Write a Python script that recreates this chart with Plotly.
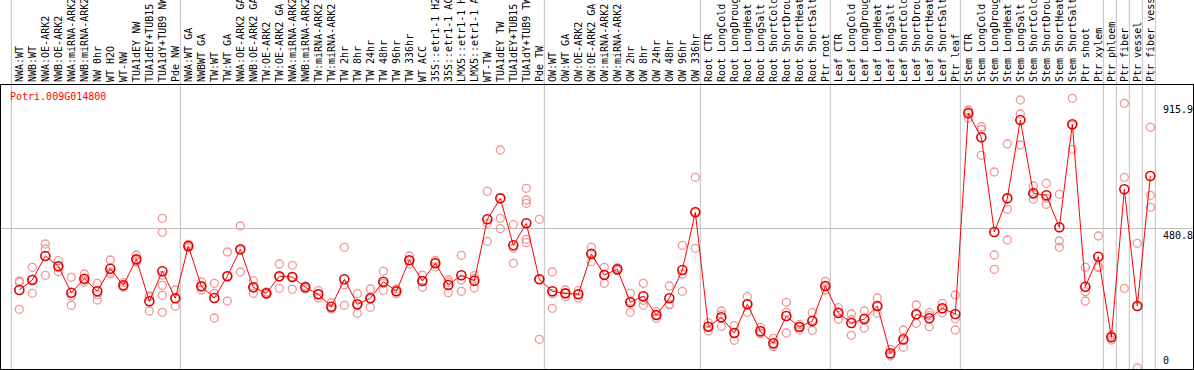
import plotly.graph_objects as go

# ---------------- data ----------------
gene = "Potri.009G014800"

samples = [
    "NWA:WT", "NWB:WT", "NWA:OE-ARK2", "NWB:OE-ARK2", "NWA:miRNA-ARK2", "NWB:miRNA-ARK2",
    "NW 0hr", "WT H2O", "WT-NW", "TUA1dEY NW", "TUA1dEY+TUB15 NW", "TUA1dY+TUB9 NW", "Pde NW",
    "NWA:WT GA", "NWBWT GA", "TW:WT", "TW:WT GA", "NWA:OE-ARK2 GA", "NWB:OE-ARK2 GA",
    "TW:OE-ARK2", "TW:OE-ARK2 GA", "NWA:miRNA-ARK2 GA", "NWB:miRNA-ARK2 GA", "TW:miRNA-ARK2",
    "TW:miRNA-ARK2 GA",
    "TW 2hr", "TW 8hr", "TW 24hr", "TW 48hr", "TW 96hr", "TW 336hr", "WT ACC",
    "35S::etr1-1 H2O", "35S::etr1-1 ACC", "LMX5::etr1-1 H2O", "LMX5::etr1-1 ACC", "WT-TW",
    "TUA1dEY TW", "TUA1dEY+TUB15 TW", "TUA1dY+TUB9 TW", "Pde TW",
    "OW:WT", "OW:WT GA", "OW:OE-ARK2", "OW:OE-ARK2 GA", "OW:miRNA-ARK2", "OW:miRNA-ARK2 GA",
    "OW 2hr", "OW 8hr", "OW 24hr", "OW 48hr", "OW 96hr", "OW 336hr",
    "Root CTR", "Root LongCold", "Root LongDrought", "Root LongHeat", "Root LongSalt",
    "Root ShortCold", "Root ShortDrought", "Root ShortHeat", "Root ShortSalt", "Ptr root",
    "Leaf CTR", "Leaf LongCold", "Leaf LongDrought", "Leaf LongHeat", "Leaf LongSalt",
    "Leaf ShortCold", "Leaf ShortDrought", "Leaf ShortHeat", "Leaf ShortSalt", "Ptr leaf",
    "Stem CTR", "Stem LongCold", "Stem LongDrought", "Stem LongHeat", "Stem LongSalt",
    "Stem ShortCold", "Stem ShortDrought", "Stem ShortHeat", "Stem ShortSalt",
    "Ptr shoot", "Ptr xylem", "Ptr phloem", "Ptr fiber", "Ptr vessel", "Ptr fiber vessel",
]

group_sizes = [13, 28, 12, 10, 10, 11, 1, 1, 1, 1]

means = [
    268.5, 302.9, 385.5, 350.0, 259.2, 307.4, 264.0, 341.8, 284.6, 374.0, 229.6, 332.8, 239.9,
    419.9, 281.2, 241.0, 315.6, 408.5, 277.8, 257.1, 315.6, 313.2, 277.8, 253.7, 211.0, 305.3,
    219.3, 239.9, 297.0, 264.0, 370.7, 299.5, 360.4, 285.7, 319.0, 300.5, 511.8, 584.0, 422.3,
    498.0, 305.3,
    264.0, 257.0, 253.7, 392.4, 320.0, 339.7, 226.1, 246.8, 182.4, 239.9, 337.3, 535.9,
    142.2, 174.5, 120.5, 219.3, 126.3, 85.0, 179.0, 141.1, 161.8, 282.2,
    189.3, 154.9, 168.7, 213.4, 50.6, 98.8, 184.8, 171.0, 205.5, 185.9,
    876.7, 794.0, 468.1, 584.0, 853.6, 601.3, 594.4, 484.3, 838.8, 279.8, 383.1,
    105.7, 615.1, 213.4, 660.9,
]

replicates = [
    [299.5, 295, 202], [346.6, 257, 305], [426.8, 409.6, 319], [369.3, 331.5, 349],
    [312.2, 247.8, 215.8], [323.5, 302.9, 296], [291.5, 252.3, 234], [371.7, 323.5, 330],
    [293.6, 282.2, 278], [389, 369.3, 364], [247.8, 196.2, 245],
    [515.3, 467, 319, 284.6, 250.2, 191.7], [268.5, 212.4, 239],
    [425.8, 414, 420], [296, 268.5, 279], [291.5, 257, 172.1], [399.3, 230.6, 317],
    [488.8, 330.4, 406], [300.5, 257.1, 276], [262, 252, 257], [358, 274.3, 314],
    [353.5, 270.9, 315], [283, 272, 278], [266, 241, 254], [224.8, 204, 204],
    [415.5, 285.7, 215.8], [255.7, 188.3, 214], [271.9, 208.9, 239], [332.8, 267.4, 291],
    [271.9, 255.7, 264], [385.5, 358, 369], [320, 277.8, 300], [370, 348, 363],
    [302.9, 259.2, 295], [387.9, 302.9, 264], [317.7, 275.4, 308], [608.2, 498, 436],
    [750.4, 515.3, 479.5], [493.2, 413, 360.4], [618.5, 578.3, 566.9, 443, 431.3],
    [511.8, 98.8, 305],
    [330.4, 205.5, 256], [268.5, 245.4, 257], [266, 241, 254], [415.5, 365.9, 396],
    [346.6, 291.5, 322], [345, 335, 339], [257.1, 191.7, 229.6], [291.5, 215.8, 233],
    [193.8, 171, 182], [282.2, 216.8, 220], [422.3, 323.5, 264], [656.4, 412, 539],
    [156, 127.4, 143], [196.2, 143.5, 184], [145.6, 95.3, 120], [245.4, 191.7, 221],
    [140, 120.5, 118], [102.2, 73.3, 79], [226.1, 191.7, 120.5], [150, 131, 142],
    [190.4, 129.8, 165], [298.4, 268.5, 280],
    [207.5, 167.6, 193], [185.9, 112.6, 166], [196.2, 137.7, 172], [241, 188.3, 211],
    [64.4, 41.3, 46], [130.8, 71.3, 94], [216.8, 153.9, 184], [190.4, 142.2, 180],
    [222.7, 190.4, 203], [251.3, 169.7, 130.8],
    [888, 859.4, 882], [830.5, 821.6, 732], [674.6, 389, 339.7], [771, 546.2, 440.6],
    [922.5, 874.3, 767.6], [626.4, 580.7, 597], [635.7, 563.5, 584], [597.9, 437.1, 415.5],
    [928.3, 752.8, 835], [346.6, 262.6, 230.6], [454.3, 348.7, 346],
    [113.6, 96.4, 107], [911, 656.4, 274.3], [429.2, 0, 211], [828.5, 594.4, 553.1],
]

y_ticks = [0, 480.8, 915.9]
y_ticktext = ["0", "480.8", "915.9"]

# ---------------- figure ----------------
W, H = 1194, 370
ML, MR, MT, MB = 1, 1, 85, 1
PW, PH = W - ML - MR, H - MT - MB
X0_PIX, X_STEP = 19.33, 13.0         # pixel of first sample, pixels per sample
Y_ZERO_PIX, Y_PER_PIX = 368.0, 3.442  # pixel of value 0, value units per pixel

xr = [(ML - X0_PIX) / X_STEP, (ML + PW - X0_PIX) / X_STEP]
yr = [(Y_ZERO_PIX - (MT + PH)) * Y_PER_PIX, (Y_ZERO_PIX - MT) * Y_PER_PIX]

idx = list(range(len(samples)))
rep_x, rep_y = [], []
for i, reps in enumerate(replicates):
    for v in reps:
        rep_x.append(i)
        rep_y.append(v)

fig = go.Figure()
fig.add_trace(go.Scatter(
    x=rep_x, y=rep_y, mode="markers", hoverinfo="skip",
    marker=dict(symbol="circle-open", size=8, color="rgb(240,150,150)",
                line=dict(width=1.3, color="rgb(240,150,150)")),
))
fig.add_trace(go.Scatter(
    x=idx, y=means, mode="lines+markers",
    line=dict(color="#FF0000", width=1),
    marker=dict(symbol="circle-open", size=9, color="#E00000",
                line=dict(width=1.6, color="#E00000")),
))

# group separator lines
shapes = []
bounds = [-1]
for g in group_sizes:
    bounds.append(bounds[-1] + g)
for b in bounds:
    xb = b + 0.385
    shapes.append(dict(type="line", xref="x", yref="paper", x0=xb, x1=xb,
                       y0=-0.01, y1=(MT + PH) / PH + 0.01,
                       line=dict(color="#C0C0C0", width=1), layer="below"))

annotations = [
    dict(text=gene, xref="paper", yref="paper", x=(8 - ML) / PW, y=1 - (89 - MT) / PH,
         xanchor="left", yanchor="top", showarrow=False,
         font=dict(family="DejaVu Sans Mono", size=10, color="#FF0000")),
]
for v, t in zip(y_ticks, y_ticktext):
    annotations.append(dict(
        text=t, xref="paper", yref="y", x=(1161 - ML) / PW, y=v,
        xanchor="left", yanchor="bottom" if v == 0 else "top", showarrow=False,
        font=dict(family="DejaVu Sans Mono", size=10, color="#000000")))

fig.update_layout(
    template="none",
    width=W, height=H, margin=dict(l=ML, r=MR, t=MT, b=MB, pad=0),
    paper_bgcolor="white", plot_bgcolor="white", showlegend=False,
    shapes=shapes, annotations=annotations,
    xaxis=dict(range=xr, side="top", tickmode="array", tickvals=idx, ticktext=samples,
               tickangle=-90, ticks="", showgrid=False, zeroline=False, automargin=False,
               showline=True, linecolor="black", linewidth=1, mirror=True,
               tickfont=dict(family="DejaVu Sans Mono", size=10, color="black")),
    yaxis=dict(range=yr, tickmode="array", tickvals=[480.8], showticklabels=False,
               ticks="", showgrid=True, gridcolor="#C0C0C0", gridwidth=1, zeroline=False,
               automargin=False,
               showline=True, linecolor="black", linewidth=1, mirror=True),
)

fig.write_html("out.html", config={"displayModeBar": False},
               post_script="document.body.style.margin='0px';document.body.style.padding='0px';")
